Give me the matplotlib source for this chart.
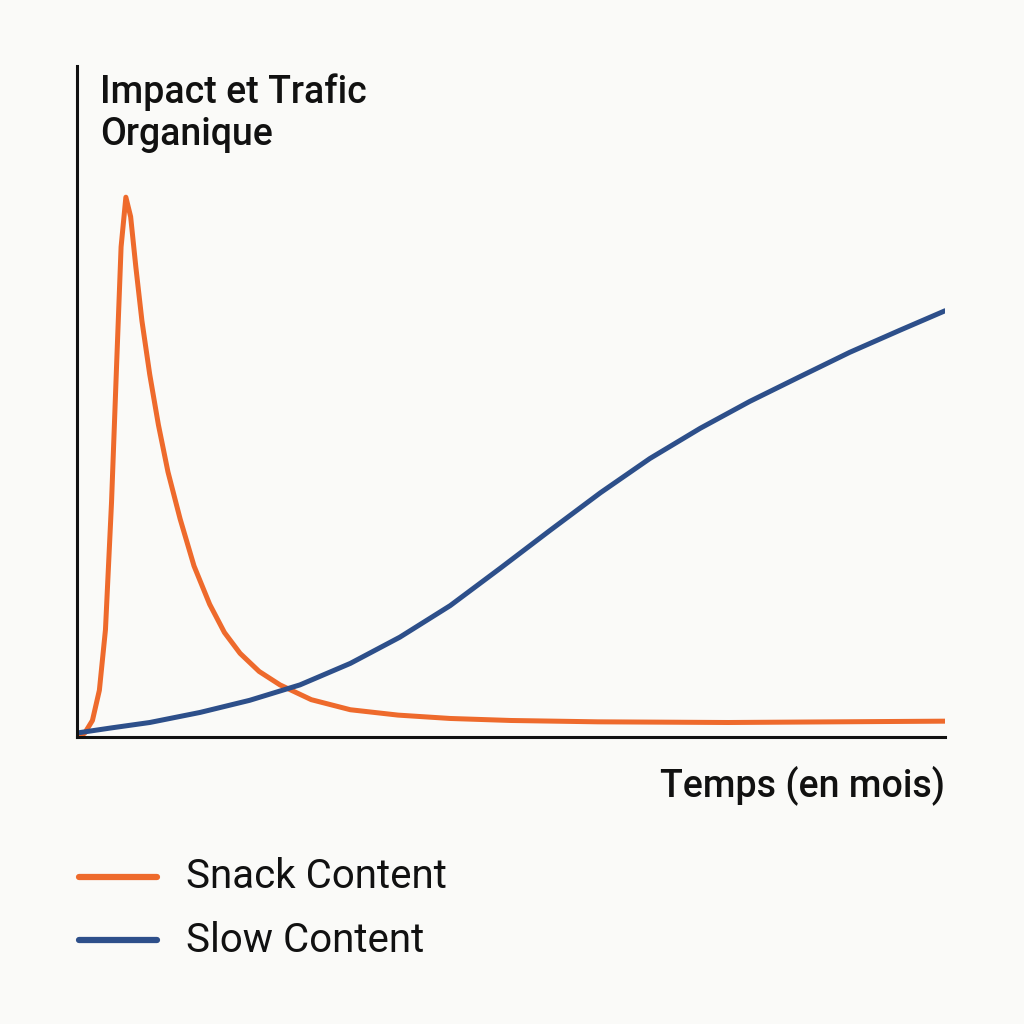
import matplotlib.pyplot as plt
from matplotlib.lines import Line2D
import numpy as np

# months (relative scale 0-100) and impact (relative scale 0-100)
snack_x = np.array([0, 0.9, 1.8, 2.6, 3.3, 4.0, 4.6, 5.1, 5.65, 6.2, 6.8, 7.5, 8.4, 9.4, 10.5, 11.9,
                    13.5, 15.3, 17.0, 18.8, 21.0, 23.4, 27.0, 31.5, 37.0, 43.0, 50.0, 60.0, 75.0, 100])
snack_y = np.array([0, 0.6, 2.5, 7.0, 16.0, 35.0, 56.0, 73.0, 80.4, 77.5, 70.0, 62.0, 54.0, 46.5, 39.5, 32.5,
                    25.5, 19.8, 15.6, 12.5, 9.8, 7.8, 5.6, 4.1, 3.3, 2.8, 2.5, 2.3, 2.2, 2.4])
slow_x = np.array([0.35, 4.0, 8.4, 14.2, 19.9, 25.7, 31.5, 37.2, 43.0, 48.7, 54.5, 60.3, 66.0, 71.8, 77.5,
                   83.3, 89.0, 94.8, 100])
slow_y = np.array([0.7, 1.4, 2.2, 3.7, 5.5, 7.8, 11.0, 14.9, 19.6, 25.1, 30.8, 36.4, 41.5, 46.0, 50.0,
                   53.7, 57.3, 60.6, 63.5])
labels = ['Snack Content', 'Slow Content']
colors = ['#ee6a2c', '#2d4f8a']

bg = '#fafaf8'
fig = plt.figure(figsize=(10.24, 10.24), dpi=100, facecolor=bg)
ax = fig.add_axes([0.075, 0.28, 0.848, 0.656], facecolor=bg)

ax.plot(snack_x, snack_y, color=colors[0], lw=3.6, solid_capstyle='round', solid_joinstyle='round')
ax.plot(slow_x, slow_y, color=colors[1], lw=3.6, solid_capstyle='round', solid_joinstyle='round')

ax.set_xlim(0, 100)
ax.set_ylim(0, 100)
ax.set_xticks([])
ax.set_yticks([])
for s in ['top', 'right']:
    ax.spines[s].set_visible(False)
for s in ['left', 'bottom']:
    ax.spines[s].set_linewidth(2.2)
    ax.spines[s].set_color('#111111')

fig.text(0.098, 0.928, 'Impact et Trafic\nOrganique', fontsize=27, fontfamily='Roboto',
         fontweight='medium', ha='left', va='top', linespacing=1.15, color='#111111')
fig.text(0.923, 0.233, 'Temps (en mois)', fontsize=27, fontfamily='Roboto',
         fontweight='medium', ha='right', va='center', color='#111111')

# legend drawn by hand
for i, (lab, c) in enumerate(zip(labels, colors)):
    y = 1 - (877 + 63 * i) / 1024
    fig.add_artist(Line2D([0.077, 0.153], [y, y], color=c, lw=4.5,
                          solid_capstyle='round', transform=fig.transFigure))
    fig.text(0.182, y, lab, fontsize=29, fontfamily='Roboto', ha='left', va='center',
             color='#111111')

fig.savefig('out.png', dpi=100, facecolor=bg)
